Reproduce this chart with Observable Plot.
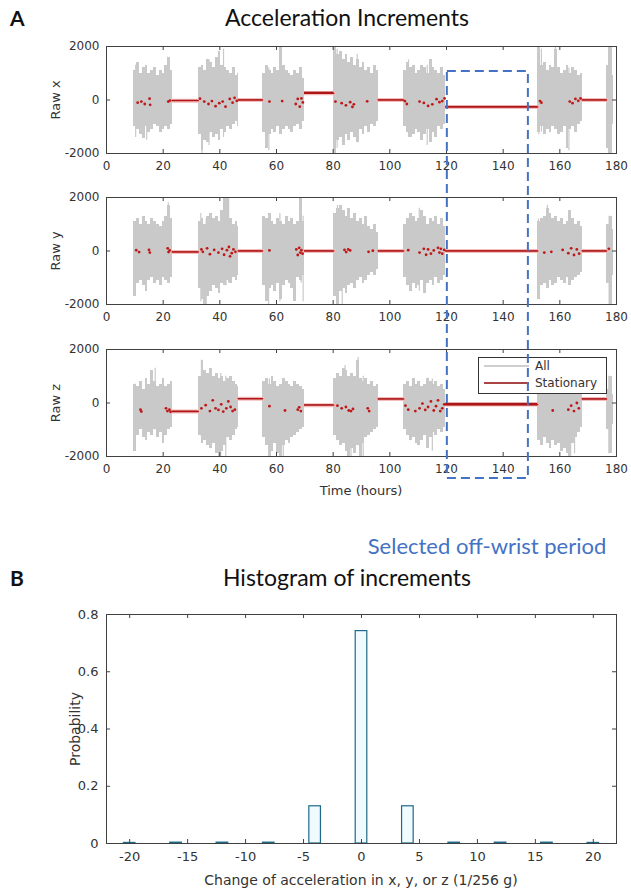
<!DOCTYPE html>
<html><head><meta charset="utf-8">
<script src="https://cdn.jsdelivr.net/npm/d3@7"></script>
<script src="https://cdn.jsdelivr.net/npm/@observablehq/plot@0.6"></script>
<style>
body{margin:0;background:#fff;}
#root{position:relative;width:631px;height:892px;overflow:hidden;background:#fff;font-family:"DejaVu Sans",sans-serif;}
.abs{position:absolute;}
.ttl{font-family:Lato,"Open Sans",sans-serif;color:#111;white-space:nowrap;}
.lab{font-family:"DejaVu Sans",sans-serif;color:#333;white-space:nowrap;}
</style></head><body><div id="root"></div>
<script>
// ---------- data ----------
const timeTicks = [0,20,40,60,80,100,120,140,160,180];
const rawTicks = [-2000,0,2000];
// active (on-wrist movement) bursts, hours
const burstStart = [9.6, 32.4, 55.1, 80.2, 104.9, 152.2, 176.5];
const burstEnd   = [23.2, 46.5, 69.9, 95.9, 119.7, 167.9, 178.9];
// hourly envelope (max / min) of raw readings inside each burst
const xHi = [[1100,1400,1000,1200,1300,1000,1100,1200,900,1100,1000,1300,1600,1100],
 [1200,1300,1100,1500,1400,1200,1600,1800,1300,1200,1100,1000,1200,900,1000],
 [1000,1300,1100,1000,1200,1100,2000,1300,1100,1000,900,1100,1000,1200,800],
 [2000,1700,1800,1500,1700,1400,1600,1300,1500,1200,1400,1100,1200,1000,1300,1100],
 [1100,1400,1200,1300,1000,1100,1300,1200,1000,1500,1200,1100,1000,1200,900],
 [2000,1300,1400,1100,1300,1200,1900,1200,1000,1100,1300,1000,1200,1100,900,1000],
 [1300,2000,900]];
const xLo = [[-1000,-1100,-1300,-1450,-1000,-1200,-1100,-900,-1000,-1200,-1100,-1000,-1100,-900],
 [-1300,-1900,-1500,-1600,-1200,-1400,-1300,-1500,-1100,-1200,-1000,-1100,-900,-800,-1000],
 [-1200,-1800,-1300,-1100,-1200,-1000,-1300,-1100,-1000,-1100,-1200,-1000,-900,-1100,-800],
 [-2000,-1500,-1400,-1700,-1300,-1500,-1200,-1400,-1600,-1100,-1300,-1000,-1200,-900,-1000,-800],
 [-1000,-1200,-1400,-1300,-1100,-1200,-1500,-1300,-1100,-1600,-1200,-1400,-1000,-1100,-900],
 [-1200,-1000,-1300,-1100,-1200,-1000,-1100,-1300,-1200,-1000,-1800,-1100,-1000,-1200,-900,-800],
 [-1800,-2000,-900]];
const yHi = [[1100,1200,1000,1300,1100,1000,1200,1100,1000,900,1100,1300,1700,1200],
 [1100,1200,1000,1300,1400,1200,1300,1100,1500,2000,2000,1200,1000,1100,900],
 [1300,1200,1400,1100,1000,1200,1100,1000,1300,1100,1200,1000,1100,2000,1100],
 [1400,1600,1700,1500,1300,1600,1200,1400,1100,1200,1000,1300,900,800,1000,700],
 [1000,1200,1400,1300,1100,1200,1500,1300,1000,1200,1100,1300,1000,1200,900],
 [1100,1200,1300,1600,1400,1200,1300,1100,1200,1000,1100,1500,1200,1000,1100,900],
 [1000,1300,800]];
const yLo = [[-1700,-1200,-1100,-1300,-1500,-1100,-1000,-1200,-1100,-1300,-1000,-1100,-1200,-1000],
 [-1400,-1800,-2000,-1700,-1500,-1300,-1400,-1600,-1200,-1300,-1100,-1200,-1000,-1100,-900],
 [-1300,-1900,-1400,-1300,-1500,-1200,-1800,-1300,-1100,-1200,-1400,-1900,-1000,-1100,-900],
 [-1700,-2000,-1500,-1400,-1600,-1300,-1200,-1400,-1100,-1000,-1200,-1100,-900,-800,-900,-700],
 [-1000,-1300,-1500,-1200,-1400,-1300,-1100,-1600,-1200,-1100,-1300,-1000,-1200,-1100,-900],
 [-1800,-1300,-1200,-1400,-1100,-1300,-1200,-1000,-1100,-1200,-1000,-1300,-1100,-1000,-900,-800],
 [-1200,-2000,-900]];
const zHi = [[700,600,800,500,900,700,1200,800,600,700,900,600,700,800],
 [1000,1600,1200,1100,1300,1000,1100,900,1000,800,900,1000,800,700,600],
 [800,900,700,1000,800,600,700,900,800,700,600,800,700,600,500],
 [900,1100,1000,1300,1200,1000,1100,1000,1600,900,800,900,700,800,600,700],
 [700,800,600,900,700,800,600,700,900,800,700,800,600,700,500],
 [800,900,1000,700,800,1200,900,800,700,900,800,1000,700,800,600,700],
 [500,1000,300]];
const zLo = [[-1800,-1200,-1000,-1300,-1400,-1100,-1200,-1000,-1300,-1100,-1500,-1200,-1000,-900],
 [-1200,-1500,-1400,-1600,-1700,-1500,-1900,-2000,-1800,-1600,-1300,-1400,-1200,-1000,-900],
 [-1300,-1600,-2000,-1800,-1500,-1900,-2000,-1600,-1400,-1500,-1300,-1200,-1100,-1000,-900],
 [-1200,-1400,-1600,-1500,-1800,-2000,-1700,-1900,-1600,-2000,-1500,-1300,-1200,-1100,-1000,-900],
 [-1000,-1200,-1400,-1300,-1500,-1600,-1400,-1200,-1700,-1300,-1100,-1200,-1000,-1100,-900],
 [-1400,-1600,-1300,-1500,-1700,-1400,-1600,-1500,-1800,-1700,-1900,-2000,-1500,-1300,-1100,-900],
 [-1000,-1900,-800]];
// isolated large excursions [hour, min, max]
const xSpikes = [[10.3,-1400,1300],[14.2,-1500,900],[21.6,-900,1600],[33.7,-2000,1100],[36.2,-1700,1500],[41.3,-1400,1900],
 [57.3,-1900,1200],[61.5,-1200,2000],[80.6,-2000,2000],[81.4,-1800,1900],[88.5,-1600,1700],[106.6,-1400,1500],[113.2,-1700,1300],
 [152.6,-1300,2000],[153.5,-1200,1900],[158.4,-1100,2000],[163.2,-1900,1200],[177.2,-2000,2000]];
const ySpikes = [[10.2,-1700,1000],[21.8,-1000,1800],[33.3,-1900,1400],[35.2,-2000,1200],[42.2,-1300,2000],[43.1,-1200,2000],
 [57.2,-2000,1200],[61.2,-1900,1400],[68.7,-1200,2000],[69.4,-1900,1300],[81.5,-1900,1700],[83.2,-2000,1500],[110.4,-1500,1600],
 [152.4,-1800,1200],[155.6,-1200,1700],[177.4,-2000,1300]];
const zSpikes = [[10.2,-1800,700],[17.2,-1000,1300],[33.5,-1300,1600],[40.3,-2000,1100],[42.1,-2000,1000],[57.5,-2000,900],
 [62.4,-2000,800],[84.2,-1200,1400],[86.3,-2000,1100],[88.8,-1600,1700],[90.6,-2000,1000],[115,-1800,900],[163.8,-2000,1000],
 [165.2,-1900,1200],[177.3,-1900,1000]];
// stationary periods
const stationStart = [23.2, 46.5, 69.9, 95.9, 119.7, 167.9];
const stationEnd   = [32.4, 55.1, 80.2, 104.9, 152.2, 176.5];
const xStation = [-25, 0, 250, 0, -260, 0];
const yStation = [-40, 0, 0, 0, 0, 0];
const zStation = [-320, 160, -80, 150, -60, 150];
const xSpread = [15, 10, 45, 10, 20, 10];
const ySpread = [10, 10, 10, 10, 10, 10];
const zSpread = [15, 10, 15, 10, 50, 10];
// stationary samples found inside active bursts [hour, value]
const xDots = [[11,-100],[12.3,-60],[13.5,-150],[15.2,50],[15.4,-180],[21.8,-60],[22.4,-20],
 [33,50],[34.5,-60],[36,-150],[37.2,-40],[38.5,-230],[39.8,-120],[41,-60],[42,-250],[43.5,40],[44.5,-100],[45.2,80],[46,-30],
 [57.5,-60],[62,-40],[66.8,-150],[67.5,40],[68.2,-250],[68.8,60],[69.3,-90],
 [80.8,-60],[83,-120],[84.5,-200],[86,-80],[86.8,-260],[87.3,-160],[92,-50],
 [105.3,-40],[106,-150],[110.5,-60],[112,-110],[113.5,-220],[115,-160],[116.5,30],[117.5,-80],[118.5,-40],[119.3,60],
 [153,-40],[153.5,-100],[163.5,-60],[164.5,-120],[165.5,40],[166.5,-30],[167.3,60]];
const yDots = [[10.5,30],[11.5,-40],[15,40],[15.3,-60],[21.6,100],[21.9,-40],[22.3,20],
 [33.5,60],[34,-30],[35.5,100],[36.5,-120],[38,40],[39.5,-60],[40.8,80],[41.5,-140],[42.5,30],[43.2,150],[43.6,-200],[44.2,-80],[44.8,60],[45.5,-30],
 [57.5,20],[67,60],[67.5,-150],[68,120],[68.4,-60],[68.8,30],[69.2,-100],
 [84,40],[84.6,-40],[85.3,60],[86,20],[92.5,-30],[94,10],
 [106.5,30],[110.5,-60],[112,80],[112.8,-140],[113.5,60],[114.5,-100],[115.5,20],[117,120],[117.5,-60],[118,80],[118.5,-100],[119.2,40],
 [154.5,-60],[157,-30],[161,40],[163,-80],[164,100],[165,-150],[166,60],[166.8,-100],[177.3,80]];
const zDots = [[12,-250],[12.3,-320],[21,-200],[21.5,-300],[22.2,-250],[22.6,-330],
 [33.5,-200],[35,-80],[36.5,-300],[37.5,100],[38.5,-200],[39.5,-260],[40.5,-50],[41.2,-320],[42.3,-200],[43,60],[43.8,-150],[44.5,-300],[45.3,-250],
 [57.5,-120],[63,-280],[67.5,-250],[68,-160],[68.6,-300],
 [81.5,-100],[83,-200],[84.5,-150],[85.5,-280],[86.3,-300],[87,-220],[92.2,-200],[92.7,-300],
 [105.5,-100],[106.5,-250],[109,-300],[110.5,-200],[111.5,-20],[112.5,-260],[113.5,-150],[114.5,60],[115.5,-280],[116.3,-120],[117,100],[117.8,-300],[118.5,-200],[119.2,-50],
 [157.5,-280],[163,-250],[164,-100],[165,-300],[166,0],[166.7,-200]];
// selected off-wrist period (hours)
const selectedPeriod = [{start: 120.3, end: 148.9}];
// histogram
const histCenters = [-20,-16,-12,-8,-4,0,4,8,12,16,20];
const histProb = [0.002,0.003,0.003,0.003,0.13,0.742,0.13,0.003,0.003,0.003,0.002];
const histXTicks = [-20,-15,-10,-5,0,5,10,15,20];
const histYTicks = [0,0.2,0.4,0.6,0.8];

// ---------- layout ----------
const W = 631, ML = 106, MR = 15, FW = W - ML - MR;
const root = document.getElementById("root");
function place(node, top, left = 0) {
  const d = document.createElement("div");
  d.className = "abs"; d.style.top = top + "px"; d.style.left = left + "px";
  d.appendChild(node); root.appendChild(d); return d;
}
function html(str, css, cls) {
  const d = document.createElement("div");
  d.className = "abs " + (cls || ""); d.style.cssText += css; d.innerHTML = str;
  root.appendChild(d); return d;
}
const axisColor = "#404040";
function boxTicks(xt, yt, xd, yd, fw, fh, len = 4) {
  const ly = (yd[1] - yd[0]) * len / fh, lx = (xd[1] - xd[0]) * len / fw;
  const s = {stroke: axisColor, strokeWidth: 1};
  return [
    Plot.ruleX(xt, {x: d => d, y1: yd[0], y2: yd[0] + ly, ...s}),
    Plot.ruleX(xt, {x: d => d, y1: yd[1] - ly, y2: yd[1], ...s}),
    Plot.ruleY(yt, {y: d => d, x1: xd[0], x2: xd[0] + lx, ...s}),
    Plot.ruleY(yt, {y: d => d, x1: xd[1] - lx, x2: xd[1], ...s})
  ];
}

const FH = 107, MT = 10, MB = 28;
function rawPanel(hi, lo, spikes, station, spread, dots) {
  const bins = [];
  burstStart.forEach((s, b) => hi[b].forEach((h, i) =>
    bins.push({t0: s + i, t1: Math.min(s + i + 1, burstEnd[b]), hi: h, lo: lo[b][i]})));
  const spikeRows = spikes.map(([t, a, b]) => ({t, a, b}));
  const segs = stationStart.map((s, i) => ({t0: s, t1: stationEnd[i], v: station[i], sp: spread[i]}));
  const lineRows = segs.flatMap((d, i) => [{t: d.t0, v: d.v, k: i}, {t: d.t1, v: d.v, k: i}]);
  const dotRows = dots.map(([t, v]) => ({t, v}));
  return Plot.plot({
    width: W, height: MT + FH + MB, marginLeft: ML, marginRight: MR, marginTop: MT, marginBottom: MB,
    x: {domain: [0, 180]}, y: {domain: [-2000, 2000]},
    style: {fontFamily: "DejaVu Sans", fontSize: "12px", color: "#333", background: "transparent", overflow: "visible"},
    marks: [
      Plot.rect(bins, {x1: "t0", x2: "t1", y1: "lo", y2: "hi", fill: "#c9c9c9", shapeRendering: "crispEdges"}),
      Plot.ruleX(spikeRows, {x: "t", y1: "a", y2: "b", stroke: "#c9c9c9", strokeWidth: 1.2}),
      Plot.line(lineRows, {x: "t", y: "v", z: "k", stroke: "#f3bcbc", strokeWidth: 4}),
      Plot.rect(segs, {x1: "t0", x2: "t1", y1: d => d.v - d.sp, y2: d => d.v + d.sp, fill: "#a81818"}),
      Plot.line(lineRows, {x: "t", y: "v", z: "k", stroke: "#b01414", strokeWidth: 1.4}),
      Plot.dot(dotRows, {x: "t", y: "v", r: 1.4, fill: "#c01818"}),
      Plot.frame({stroke: axisColor}),
      ...boxTicks(timeTicks, rawTicks, [0, 180], [-2000, 2000], FW, FH),
      Plot.axisX({ticks: timeTicks, tickSize: 0, tickPadding: 8, tickFormat: d => String(d), label: null}),
      Plot.axisY({ticks: rawTicks, tickSize: 0, tickPadding: 7, tickFormat: d => String(d), label: null})
    ]
  });
}

const frameTops = [46, 197, 349];
const names = ["Raw x", "Raw y", "Raw z"];
const panels = [[xHi, xLo, xSpikes, xStation, xSpread, xDots], [yHi, yLo, ySpikes, yStation, ySpread, yDots], [zHi, zLo, zSpikes, zStation, zSpread, zDots]];
panels.forEach((p, i) => {
  place(rawPanel(...p), frameTops[i] - MT);
  html(names[i], `left:55px;top:${frameTops[i] + FH / 2}px;font-size:13px;transform:translate(-50%,-50%) rotate(-90deg);`, "lab");
});

// legend (inside Raw z axes)
html(`<div style="position:absolute;left:5px;top:7px;width:45px;border-top:2px solid #cfcfcf"></div>
<div style="position:absolute;left:56px;top:0px;font-size:12px;line-height:16px">All</div>
<div style="position:absolute;left:5px;top:24px;width:45px;border-top:2px solid #a84444"></div>
<div style="position:absolute;left:56px;top:17px;font-size:12px;line-height:16px">Stationary</div>`,
  "left:478px;top:357px;width:127px;height:35px;border:1px solid #333;background:#fff;", "lab");

html("Time (hours)", "left:361px;top:490px;font-size:13px;transform:translate(-50%,-50%);", "lab");

// dashed selection box overlay
const overlay = Plot.plot({
  width: W, height: 411, marginLeft: ML, marginRight: MR, marginTop: 2, marginBottom: 2,
  x: {domain: [0, 180], axis: null},
  style: {background: "transparent", overflow: "visible"},
  marks: [Plot.rect(selectedPeriod, {x1: "start", x2: "end", fill: "none", stroke: "#4472c4", strokeWidth: 2, strokeDasharray: "9,5"})]
});
const ov = place(overlay, 69); ov.style.pointerEvents = "none";

// titles
html("A", "left:10px;top:17px;font-size:21px;font-weight:bold;transform:translateY(-50%);", "ttl");
html("Acceleration Increments", "left:347px;top:17px;font-size:23px;transform:translate(-50%,-50%);", "ttl");
html("Selected off-wrist period", "left:487px;top:545px;font-size:22px;color:#4472c4;transform:translate(-50%,-50%);", "ttl");
html("B", "left:10px;top:577px;font-size:21px;font-weight:bold;transform:translateY(-50%);", "ttl");
html("Histogram of increments", "left:347px;top:577px;font-size:23px;transform:translate(-50%,-50%);", "ttl");

// histogram
const HT = 614, HFH = 229, HMT = 10, HMB = 30;
const histRows = histCenters.map((c, i) => ({c, p: histProb[i]}));
const hist = Plot.plot({
  width: W, height: HMT + HFH + HMB, marginLeft: ML, marginRight: MR, marginTop: HMT, marginBottom: HMB,
  x: {domain: [-22, 22]}, y: {domain: [0, 0.8]},
  style: {fontFamily: "DejaVu Sans", fontSize: "13px", color: "#333", background: "transparent", overflow: "visible"},
  marks: [
    Plot.rectY(histRows, {x1: d => d.c - 0.5, x2: d => d.c + 0.5, y: "p", fill: "#effbff", stroke: "#1d6a87", strokeWidth: 1.2}),
    Plot.frame({stroke: axisColor}),
    ...boxTicks(histXTicks, histYTicks, [-22, 22], [0, 0.8], FW, HFH),
    Plot.axisX({ticks: histXTicks, tickSize: 0, tickPadding: 8, tickFormat: d => String(d), label: null}),
    Plot.axisY({ticks: histYTicks, tickSize: 0, tickPadding: 8, tickFormat: d => String(d), label: null})
  ]
});
place(hist, HT - HMT);
html("Probability", `left:75px;top:${HT + HFH / 2}px;font-size:14px;transform:translate(-50%,-50%) rotate(-90deg);`, "lab");
html("Change of acceleration in x, y, or z (1/256 g)", "left:361px;top:880px;font-size:14px;transform:translate(-50%,-50%);", "lab");
</script></body></html>
